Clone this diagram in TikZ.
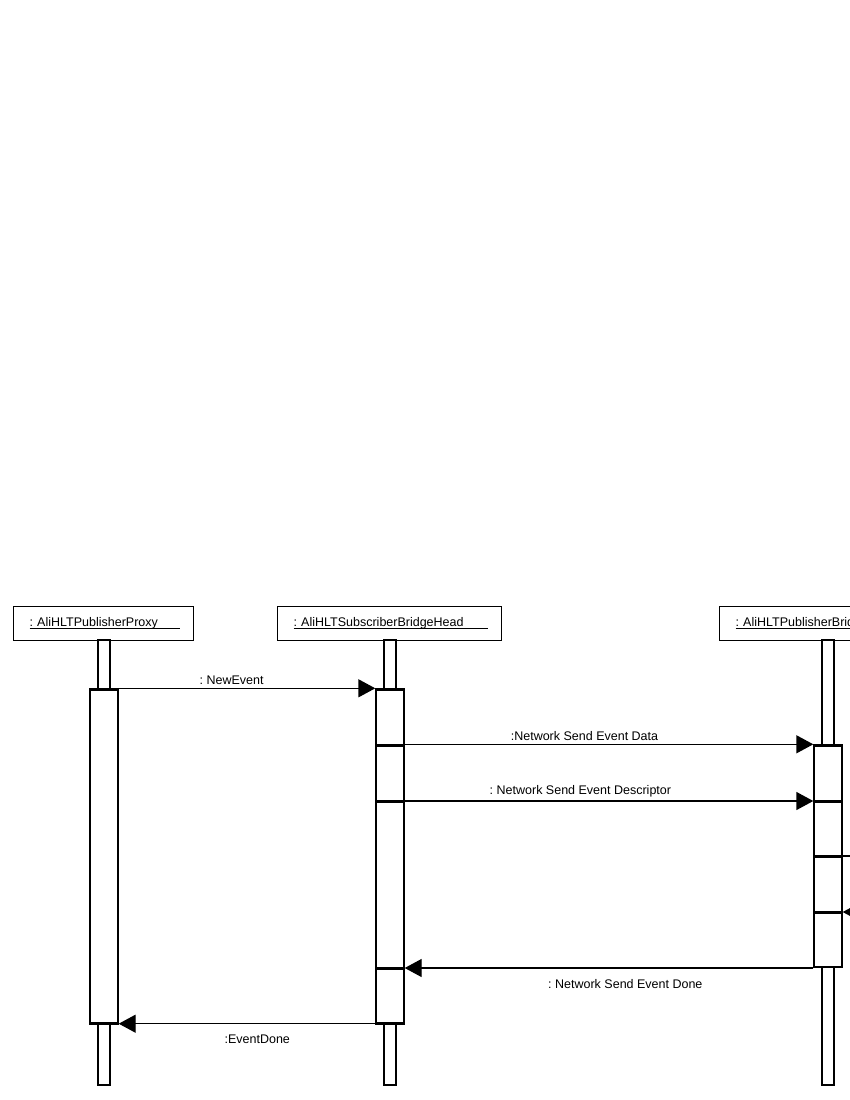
\documentclass[tikz,border=0pt]{standalone}
\usepackage{fontspec}
\setmainfont{Liberation Sans}
\usetikzlibrary{arrows.meta}
\newcommand{\objname}[2]{\rlap{\rule[-1.6pt]{#2}{0.9pt}}#1}
\tikzset{
  objbox/.style={draw, line width=1.2pt, anchor=north west, minimum height=34pt, inner xsep=16pt, text width=#1, align=left},
  actbar/.style={draw, fill=white, line width=1.4pt, minimum width=28pt, inner sep=0pt},
  stem/.style={draw, line width=1.3pt},
  msg/.style={line width=1.4pt, -{Triangle[length=17pt,width=18pt]}},
  divider/.style={line width=3pt},
}
\begin{document}
\frenchspacing
\begin{tikzpicture}[x=1pt, y=-1pt, font=\fontsize{12.5}{15}\selectfont\frenchspacing]
\clip (0,0) rectangle (850,1100);
% objects
\node[objbox=148pt] (proxy) at (13,606) {\objname{: AliHLTPublisherProxy}{150pt}};
\node[objbox=192pt] (subhead) at (277,606) {\objname{: AliHLTSubscriberBridgeHead}{194pt}};
\node[objbox=228pt] (pubhead) at (719,606) {\objname{: AliHLTPublisherBridgeHead}{190pt}};
% lifelines
\foreach \x/\top/\bot in {104/689/1023, 390/689/1023, 828/745/967}
{
    \draw[stem] (\x-6,640) rectangle (\x+6,\top);
    \draw[stem] (\x-6,\bot) rectangle (\x+6,1085);
}
% activations
\node[actbar, minimum height=334pt] (act1) at (104,856) {};
\node[actbar, minimum height=334pt] (act2) at (390,856) {};
\node[actbar, minimum height=222pt] (act3) at (828,856) {};
\foreach \y in {689,1023}
    \draw[divider] (act1.west |- 0,\y) -- (act1.east |- 0,\y);
\foreach \y in {689,745,801,968,1023}
    \draw[divider] (act2.west |- 0,\y) -- (act2.east |- 0,\y);
\foreach \y in {745,801,856,912}
    \draw[divider] (act3.west |- 0,\y) -- (act3.east |- 0,\y);
% messages
\coordinate (dsc) at (0,801);
\coordinate (slf) at (880,856);
\coordinate (ret) at (880,912);
\coordinate (dn) at (0,968);
\draw[msg] (act1.north east) -- node[above, pos=.44] {: NewEvent} (act2.north west);
\draw[msg] (act2.east |- act3.north) -- node[above, pos=.44] {:Network Send Event Data} (act3.north west);
\draw[msg] (act2.east |- dsc) -- node[above, pos=.43] {: Network Send Event Descriptor} (act3.west |- dsc);
\draw[line width=1.4pt] (act3.east |- slf) -- (slf);
\draw[msg] (ret) -- (act3.east |- ret);
\draw[msg] (act3.west |- dn) -- node[below=7pt, pos=.46] {: Network Send Event Done} (act2.east |- dn);
\draw[msg] (act2.south west) -- node[below=7pt, pos=.46] {:EventDone} (act1.south east);
\end{tikzpicture}
\end{document}
